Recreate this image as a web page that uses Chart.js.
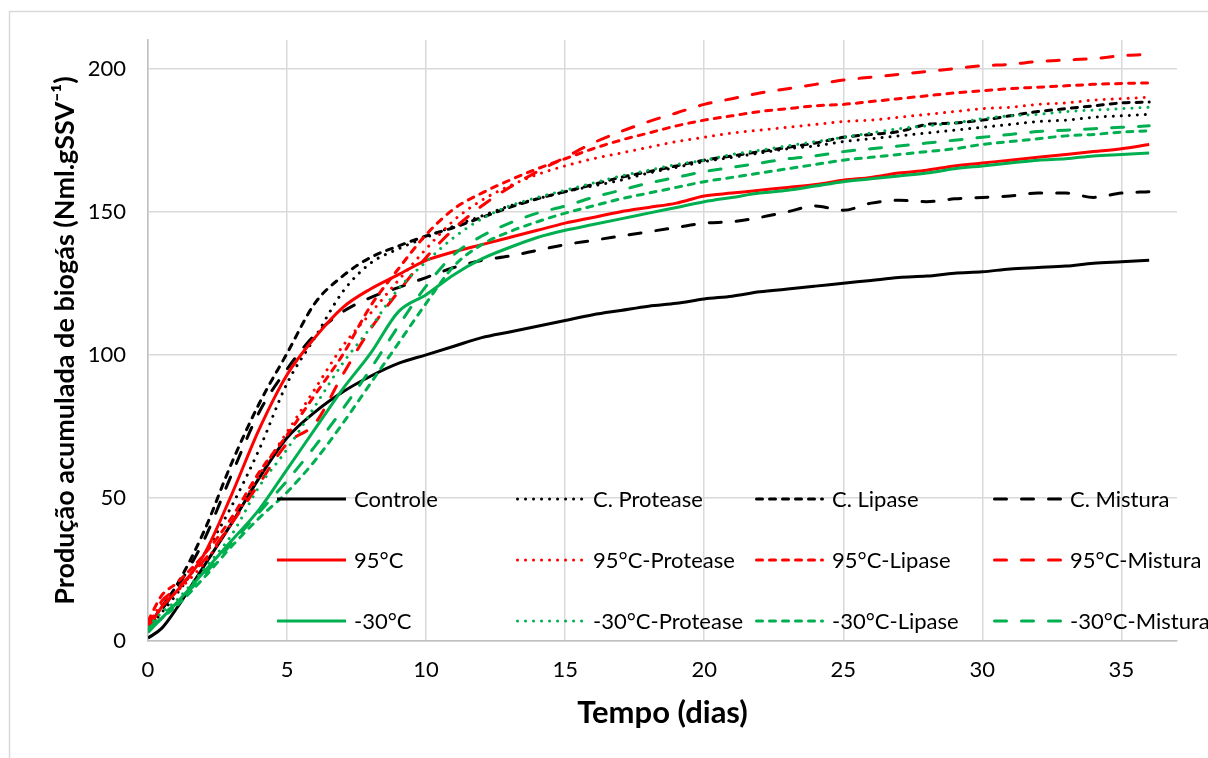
<!DOCTYPE html>
<html><head><meta charset="utf-8">
<script src="https://cdn.jsdelivr.net/npm/chart.js@4.4.0/dist/chart.umd.min.js"></script>
<style>html,body{margin:0;padding:0;background:#fff;}canvas{display:block;}</style>
</head><body>
<canvas id="c" width="1208" height="758"></canvas>
<script>
// ---- data ----
const days = [0,0.5,1,2,3,4,5,6,7,8,9,10,11,12,13,14,15,16,17,18,19,20,21,22,23,24,25,26,27,28,29,30,31,32,33,34,35,36];
const controle    = [1,4.5,11,26,41,57,71,80,87,92.5,97,100,103,106,108,110,112,114,115.5,117,118,119.5,120.5,122,123,124,125,126,127,127.5,128.5,129,130,130.5,131,132,132.5,133];
const cProtease   = [4,10,16,30,47,67,90,106,122,132,137,141,145,148.5,152,154.5,157,159,161,163.5,165.5,167.5,169,170.5,172,173,174.5,175.5,176.5,177.5,178.5,179.5,180.5,181.5,182,183,183.5,184];
const cLipase     = [5,12,19,38,62,83,100.5,118,127.5,134,138,141.5,144.5,148,151.5,154.5,157,159.5,162,164,166,168,169.5,171,172.5,174,176,177,178,180.5,181,182,183.5,185,186,187,188,188.3];
const cMistura    = [4,11,18,35,58,80,95,107,115,120,123.5,127,130.5,133,134.5,136.5,138.5,140,141.5,143,144.5,146,146.5,148,150,152,150.5,153,154,153.5,154.5,155,155.5,156.5,156.5,155,156.5,157];
const t95         = [4,12,17,30,51,74,93,106,116.5,123,128,133,136,138.5,141,143.5,146,148,150,151.5,153,155.5,156.5,157.5,158.5,159.5,161,162,163.5,164.5,166,167,168,169,170,171,172,173.5];
const t95Protease = [6,13,17,27,41,58,73,88,103,114.5,126,137,147,154,159,163,166,168.5,170.5,172.5,174.5,176,177.5,178.5,179.5,180.5,181.5,182,183,184,185,186,186.5,187.5,188,189,189.5,190];
const t95Lipase   = [7,16,20,30,43,59,72,86,100,117,130,142,151,156.5,161,165,168.5,172,175,177.5,180,182,183.5,185,186,187,187.5,188.5,189.5,190.5,191.5,192.3,193,193.5,194,194.5,194.8,195];
const t95Mistura  = [5,14,18,28,41,55,69,76,93,109,122,134,144,152,158.5,164,169,174,178,181.5,184.5,187.5,189.5,191.5,193,194.5,196,197,198,199,200,201,201.5,202.5,203,203.5,204.5,205];
const m30         = [3,8,13,24,35,46,60,74,88,100.5,115,121,128,133.5,137.5,141,143.5,145.5,147.5,149.5,151.5,153.5,155,156.5,157.5,159,160.5,161.5,162.5,163.5,165,166,167,168,168.5,169.5,170,170.5];
const m30Protease = [5,10,14,25,37,54,67,82,97,109.5,123,132.5,141,147.5,152,155,157.5,160,162.5,164.5,166.5,168,170,171.5,173,174.5,176,177.5,179,180,181,182.5,183.5,184,185,185.5,186,186.5];
const m30Lipase   = [4,8,12,22,33,43,52,63,76,90,104,118,131,138.5,143,146.5,149.5,152,154.5,156.5,158.5,160.5,162,163.5,165,166.5,168,169,170,171,172,173.5,174.5,175.5,176.5,177,177.8,178.3];
const m30Mistura  = [4,9,13,23,34,45,56,68,81,95,110,124,135,141.5,146,149.5,152,155,157.5,160,162,164,165.5,167,168.5,169.5,171,172,173,174,175,176,177,178,178.5,179,179.5,180];
const seriesNames = ['Controle','C. Protease','C. Lipase','C. Mistura','95°C','95°C-Protease','95°C-Lipase','95°C-Mistura','-30°C','-30°C-Protease','-30°C-Lipase','-30°C-Mistura'];
const seriesValues = [controle,cProtease,cLipase,cMistura,t95,t95Protease,t95Lipase,t95Mistura,m30,m30Protease,m30Lipase,m30Mistura];
const xTicks = [0,5,10,15,20,25,30,35];
const yTicks = [0,50,100,150,200];
const xTitle = 'Tempo (dias)';
const yTitle = 'Produção acumulada de biogás (Nml.gSSV⁻¹)';

// ---- styles ----
const colors = ['#000000','#ff0000','#00b050'];
const dashes = [[], [0.01, 8], [6, 7], [12, 15]];
const caps = ['butt','round','round','round'];

const datasets = seriesValues.map((vals, i) => {
  const g = Math.floor(i / 4), k = i % 4;
  return {
    label: seriesNames[i],
    data: days.map((d, j) => ({x: d, y: vals[j]})),
    borderColor: colors[g],
    backgroundColor: colors[g],
    borderWidth: 3,
    borderDash: dashes[k],
    borderCapStyle: caps[k],
    borderJoinStyle: 'round',
    pointRadius: 0,
    fill: false,
    cubicInterpolationMode: 'monotone',
    order: 20 - i
  };
});

const FONT = 'Lato';

const frame = {
  id: 'frame',
  beforeDraw(chart) {
    const ctx = chart.ctx;
    ctx.save();
    ctx.fillStyle = '#fff';
    ctx.fillRect(0, 0, chart.width, chart.height);
    ctx.strokeStyle = '#d9d9d9';
    ctx.lineWidth = 1.5;
    ctx.beginPath();
    ctx.moveTo(9.5, chart.height);
    ctx.lineTo(9.5, 11.5);
    ctx.lineTo(chart.width, 11.5);
    ctx.stroke();
    ctx.restore();
  }
};

const gridLegend = {
  id: 'gridLegend',
  afterDatasetsDraw(chart) {
    const ctx = chart.ctx;
    const cols = [277, 516, 755, 993];
    const rows = [499, 560, 621];
    const sampleLen = 69, textOff = 77;
    ctx.save();
    chart.data.datasets.forEach((ds, i) => {
      const c = i % 4, r = Math.floor(i / 4);
      const x0 = cols[c], y = rows[r];
      ctx.beginPath();
      ctx.strokeStyle = ds.borderColor;
      ctx.lineWidth = ds.borderWidth;
      ctx.lineCap = ds.borderCapStyle;
      ctx.setLineDash(ds.borderDash);
      const inset = ds.borderCapStyle === 'round' ? 1.5 : 0;
      ctx.moveTo(x0 + inset, y);
      ctx.lineTo(x0 + sampleLen - inset, y);
      ctx.stroke();
      ctx.setLineDash([]);
      ctx.fillStyle = '#000';
      ctx.font = '22px ' + FONT;
      ctx.textBaseline = 'middle';
      ctx.textAlign = 'left';
      ctx.fillText(ds.label, x0 + textOff, y + 1);
    });
    ctx.restore();
  }
};

new Chart(document.getElementById('c'), {
  type: 'line',
  data: { datasets },
  plugins: [frame, gridLegend],
  options: {
    responsive: false,
    devicePixelRatio: 1,
    animation: false,
    layout: { padding: { top: 40, right: 31, left: 0, bottom: 0 } },
    plugins: { legend: { display: false }, tooltip: { enabled: false } },
    scales: {
      x: {
        type: 'linear', min: 0, max: 37,
        afterBuildTicks: s => { s.ticks = xTicks.map(v => ({ value: v })); },
        afterFit: s => { s.height = 117; },
        grid: { color: '#d9d9d9', lineWidth: 1.5, drawTicks: false },
        border: { color: '#bfbfbf', width: 1.5 },
        ticks: { color: '#000', font: { family: FONT, size: 22 }, padding: 16, maxRotation: 0 },
        title: { display: true, text: xTitle, color: '#000', font: { family: FONT, size: 31, weight: 'bold' }, padding: { top: 0, bottom: 26 } }
      },
      y: {
        type: 'linear', min: 0, max: 210,
        afterBuildTicks: s => { s.ticks = yTicks.map(v => ({ value: v })); },
        afterFit: s => { s.width = 148; },
        grid: { color: '#d9d9d9', lineWidth: 1.5, drawTicks: false },
        border: { color: '#bfbfbf', width: 1.5 },
        ticks: { color: '#000', font: { family: FONT, size: 22 }, padding: 22 },
        title: { display: true, text: yTitle, color: '#000', font: { family: FONT, size: 27, weight: 'bold' }, padding: { top: 49, bottom: 0 } }
      }
    }
  }
});
</script>
</body></html>
